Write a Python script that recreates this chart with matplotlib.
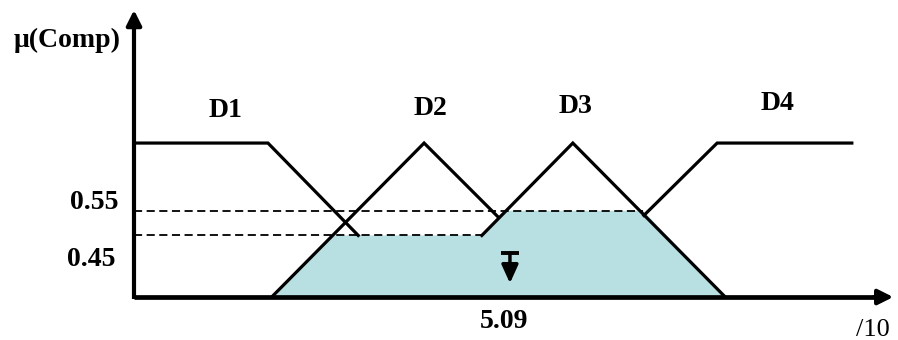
import matplotlib
matplotlib.use("Agg")
from matplotlib import pyplot as plt

# membership functions (x in units of /10, y = membership degree)
d1_x = [0.0, 1.81, 3.03]
d1_y = [1.0, 1.0, 0.40]
d2_x = [1.86, 3.92, 4.92]
d2_y = [0.0, 1.0, 0.52]
d3_x = [4.70, 5.93, 7.99]
d3_y = [0.40, 1.0, 0.0]
d4_x = [6.89, 7.88, 9.70]
d4_y = [0.53, 1.0, 1.0]

# aggregated (clipped) output region
agg_x = [1.86, 2.69, 4.70, 5.00, 6.88, 7.99]
agg_y = [0.0, 0.40, 0.40, 0.56, 0.56, 0.0]

# cut levels: (level, end x)
cut_levels = [0.56, 0.40]
cut_ends = [6.88, 4.70]
cut_labels = ["0.55", "0.45"]

centroid = 5.08
centroid_label = "5.09"

set_names = ["D1", "D2", "D3", "D4"]
name_x = [1.24, 4.01, 5.97, 8.69]
name_y = [1.169, 1.182, 1.195, 1.214]

fig = plt.figure(figsize=(8.98, 3.4), dpi=100)
ax = fig.add_axes([0, 0, 1, 1])
ax.set_xlim(-1.811, 10.324)
ax.set_ylim(-0.279, 1.929)
ax.axis("off")

font = dict(family="Liberation Serif", fontweight="bold", fontsize=20)

ax.fill(agg_x, agg_y, color="#b8e0e3", lw=0, zorder=1)

for lvl, xe in zip(cut_levels, cut_ends):
    ax.plot([0, xe], [lvl, lvl], color="black", lw=1.3, dashes=(4.5, 2.5), zorder=2)

for xs, ys in [(d1_x, d1_y), (d2_x, d2_y), (d3_x, d3_y), (d4_x, d4_y)]:
    ax.plot(xs, ys, color="black", lw=2.3, solid_joinstyle="miter", zorder=3)

# axes with arrows
ax.plot([0, 10.05], [0, 0], color="black", lw=3.4, solid_capstyle="butt", zorder=4)
ax.plot([0, 0], [-0.015, 1.76], color="black", lw=3.0, solid_capstyle="butt", zorder=4)
ax.annotate("", xy=(10.26, 0), xytext=(10.0, 0),
            arrowprops=dict(arrowstyle="-|>,head_length=0.9,head_width=0.45",
                            color="black", lw=3, shrinkA=0, shrinkB=0), zorder=4)
ax.annotate("", xy=(0, 1.864), xytext=(0, 1.75),
            arrowprops=dict(arrowstyle="-|>,head_length=0.9,head_width=0.45",
                            color="black", lw=3, shrinkA=0, shrinkB=0), zorder=4)

# centroid marker
ax.plot([centroid - 0.125, centroid + 0.125], [0.286, 0.286], color="black", lw=2.8,
        solid_capstyle="butt", zorder=5)
ax.annotate("", xy=(centroid, 0.09), xytext=(centroid, 0.286),
            arrowprops=dict(arrowstyle="-|>,head_length=1.1,head_width=0.5",
                            color="black", lw=2.5, shrinkA=0, shrinkB=0), zorder=5)

for name, x, y in zip(set_names, name_x, name_y):
    ax.text(x, y, name, ha="center", va="baseline", **font)

ax.text(-0.54, 0.571, cut_labels[0], ha="center", va="baseline", **font)
ax.text(-0.58, 0.201, cut_labels[1], ha="center", va="baseline", **font)
ax.text(5.0, -0.201, centroid_label, ha="center", va="baseline", **font)
ax.text(-0.905, 1.623, "\u03bc(Comp)", ha="center", va="baseline", **font)
ax.text(9.76, -0.25, "/10", ha="left", va="baseline",
        family="Liberation Serif", fontsize=19)

fig.savefig("out.png", dpi=100)
